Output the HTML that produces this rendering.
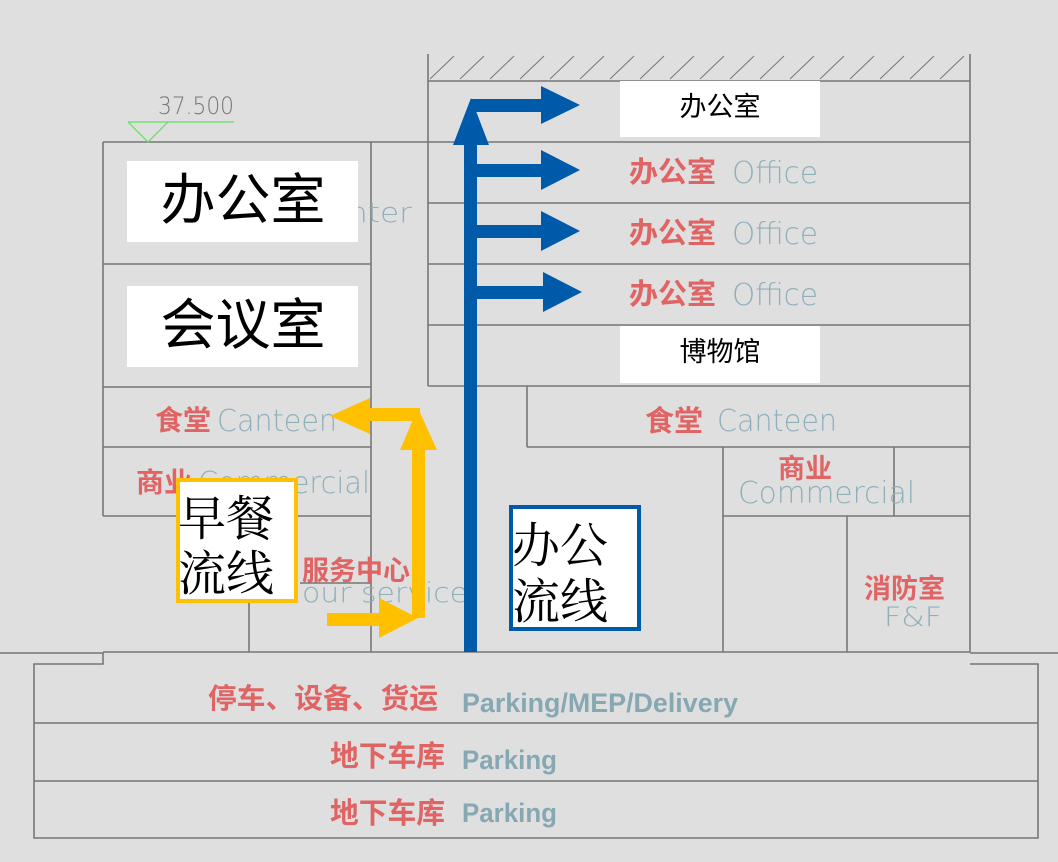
<!DOCTYPE html>
<html><head><meta charset="utf-8"><style>
html,body{margin:0;padding:0;background:#dfdfdf;}
svg{display:block;}
.r{fill:#e06464;font-family:"Liberation Sans","Noto Sans CJK SC",sans-serif;font-weight:bold;}
.g{fill:#8fb0bb;font-family:"DejaVu Sans","Liberation Sans",sans-serif;font-weight:200;}
.gb{fill:#86a8b3;font-family:"Liberation Sans",sans-serif;font-weight:bold;}
.k{fill:#000;font-family:"Liberation Sans","Noto Sans CJK SC",sans-serif;}
</style></head><body>
<svg width="1058" height="862" viewBox="0 0 1058 862" xmlns="http://www.w3.org/2000/svg">
<rect width="1058" height="862" fill="#dfdfdf"/>
<g stroke="#777" stroke-width="1.6" fill="none">
<line x1="428" y1="54" x2="428" y2="386"/>
<line x1="970" y1="54" x2="970" y2="652"/>
<line x1="428" y1="81" x2="970" y2="81"/>
<g stroke-width="1">
<line x1="430" y1="79" x2="454" y2="56"/><line x1="460" y1="79" x2="484" y2="56"/><line x1="490" y1="79" x2="514" y2="56"/><line x1="520" y1="79" x2="544" y2="56"/><line x1="550" y1="79" x2="574" y2="56"/><line x1="580" y1="79" x2="604" y2="56"/><line x1="610" y1="79" x2="634" y2="56"/><line x1="640" y1="79" x2="664" y2="56"/><line x1="670" y1="79" x2="694" y2="56"/><line x1="700" y1="79" x2="724" y2="56"/><line x1="730" y1="79" x2="754" y2="56"/><line x1="760" y1="79" x2="784" y2="56"/><line x1="790" y1="79" x2="814" y2="56"/><line x1="820" y1="79" x2="844" y2="56"/><line x1="850" y1="79" x2="874" y2="56"/><line x1="880" y1="79" x2="904" y2="56"/><line x1="910" y1="79" x2="934" y2="56"/><line x1="940" y1="79" x2="964" y2="56"/>
</g>
<line x1="428" y1="142" x2="970" y2="142"/>
<line x1="428" y1="203" x2="970" y2="203"/>
<line x1="428" y1="264" x2="970" y2="264"/>
<line x1="428" y1="325" x2="970" y2="325"/>
<line x1="428" y1="386" x2="970" y2="386"/>
<line x1="527" y1="386" x2="527" y2="447"/>
<line x1="527" y1="447" x2="970" y2="447"/>
<line x1="723" y1="447" x2="723" y2="652"/>
<line x1="894" y1="447" x2="894" y2="516"/>
<line x1="723" y1="516" x2="970" y2="516"/>
<line x1="847" y1="516" x2="847" y2="652"/>
<line x1="103" y1="142" x2="428" y2="142"/>
<line x1="103" y1="142" x2="103" y2="516"/>
<line x1="371" y1="142" x2="371" y2="652"/>
<line x1="103" y1="264" x2="371" y2="264"/>
<line x1="103" y1="387" x2="371" y2="387"/>
<line x1="103" y1="447" x2="371" y2="447"/>
<line x1="103" y1="516" x2="371" y2="516"/>
<line x1="300" y1="583" x2="371" y2="583"/>
<line x1="249" y1="583" x2="249" y2="652"/>
<polyline points="0,653 103,653 103,664 34,664 34,838 1038,838 1038,664 970,664"/>
<line x1="103" y1="652" x2="970" y2="652"/>
<line x1="970" y1="653" x2="1058" y2="653"/>
<line x1="34" y1="723" x2="1038" y2="723"/>
<line x1="34" y1="781" x2="1038" y2="781"/>
</g>
<text x="158" y="114" font-family="DejaVu Sans,sans-serif" font-weight="200" font-size="24" fill="#777" textLength="76" lengthAdjust="spacingAndGlyphs">37.500</text>
<line x1="128" y1="122" x2="234" y2="122" stroke="#66dd66" stroke-width="1.2"/>
<polyline points="128,122 148,142 168,122" fill="none" stroke="#66dd66" stroke-width="1.2"/>
<text x="348" y="222" class="g" font-size="28" textLength="64" lengthAdjust="spacingAndGlyphs">nter</text>
<text x="155" y="430" class="r" font-size="28">食堂</text><text x="217" y="431" class="g" font-size="30" textLength="120" lengthAdjust="spacingAndGlyphs">Canteen</text>
<text x="136" y="492" class="r" font-size="28">商业</text><text x="198" y="493" class="g" font-size="30" textLength="172" lengthAdjust="spacingAndGlyphs">Commercial</text>
<text x="302" y="580" class="r" font-size="27">服务中心</text>
<text x="302" y="602" class="g" font-size="28" textLength="166" lengthAdjust="spacingAndGlyphs">our  service</text>
<text x="629" y="182" class="r" font-size="29">办公室</text><text x="732" y="183" class="g" font-size="30" textLength="86" lengthAdjust="spacingAndGlyphs">Office</text>
<text x="629" y="243" class="r" font-size="29">办公室</text><text x="732" y="244" class="g" font-size="30" textLength="86" lengthAdjust="spacingAndGlyphs">Office</text>
<text x="629" y="304" class="r" font-size="29">办公室</text><text x="732" y="305" class="g" font-size="30" textLength="86" lengthAdjust="spacingAndGlyphs">Office</text>
<text x="645" y="431" class="r" font-size="29">食堂</text><text x="717" y="431" class="g" font-size="30" textLength="120" lengthAdjust="spacingAndGlyphs">Canteen</text>
<text x="778" y="478" class="r" font-size="27">商业</text>
<text x="738" y="503" class="g" font-size="30" textLength="177" lengthAdjust="spacingAndGlyphs">Commercial</text>
<text x="864" y="598" class="r" font-size="27">消防室</text>
<text x="884" y="626" class="g" font-size="27" textLength="58" lengthAdjust="spacingAndGlyphs">F&amp;F</text>
<text x="208" y="708" class="r" font-size="28" textLength="230" lengthAdjust="spacingAndGlyphs">停车、设备、货运</text><text x="462" y="712" class="gb" font-size="27" textLength="276" lengthAdjust="spacingAndGlyphs">Parking/MEP/Delivery</text>
<text x="330" y="766" class="r" font-size="29" textLength="115" lengthAdjust="spacingAndGlyphs">地下车库</text><text x="462" y="769" class="gb" font-size="27" textLength="95" lengthAdjust="spacingAndGlyphs">Parking</text>
<text x="330" y="823" class="r" font-size="29" textLength="115" lengthAdjust="spacingAndGlyphs">地下车库</text><text x="462" y="822" class="gb" font-size="27" textLength="95" lengthAdjust="spacingAndGlyphs">Parking</text>
<rect x="127" y="161" width="231" height="81" fill="#fff"/>
<text x="243" y="219" class="k" font-size="55" text-anchor="middle">办公室</text>
<rect x="127" y="286" width="231" height="81" fill="#fff"/>
<text x="243" y="344" class="k" font-size="55" text-anchor="middle">会议室</text>
<rect x="620" y="81" width="200" height="56" fill="#fff"/>
<text x="720" y="116" class="k" font-size="27" text-anchor="middle">办公室</text>
<rect x="620" y="326" width="200" height="57" fill="#fff"/>
<text x="720" y="361" class="k" font-size="27" text-anchor="middle">博物馆</text>
<g fill="#005aaa">
<rect x="464" y="140" width="13" height="512"/>
<polygon points="453,145 471,98 489,145"/>
<rect x="471" y="99" width="76" height="13"/>
<polygon points="541,86 580,105 541,124"/>
<rect x="477" y="164" width="70" height="13"/><polygon points="541,150 580,170 541,190"/>
<rect x="477" y="225" width="70" height="13"/><polygon points="541,211 580,231 541,251"/>
<rect x="477" y="286" width="70" height="13"/><polygon points="543,272 582,292 543,312"/>
</g>
<g fill="#ffc000">
<rect x="367" y="408" width="53" height="13"/>
<polygon points="330,416 370,398 370,434"/>
<rect x="412" y="448" width="13" height="170"/>
<polygon points="400,450 418,408 437,450"/>
<rect x="327" y="613" width="56" height="13"/>
<polygon points="379,598 418,618 379,638"/>
</g>
<rect x="178" y="480" width="118" height="121" fill="#fff" stroke="#ffc000" stroke-width="4"/>
<text x="178" y="535" class="k" font-size="48" style="font-family:'Noto Serif CJK SC',serif">早餐</text>
<text x="178" y="590" class="k" font-size="48" style="font-family:'Noto Serif CJK SC',serif">流线</text>
<rect x="511" y="507" width="128" height="122" fill="#fff" stroke="#005aaa" stroke-width="4"/>
<text x="512" y="562" class="k" font-size="48" style="font-family:'Noto Serif CJK SC',serif">办公</text>
<text x="512" y="618" class="k" font-size="48" style="font-family:'Noto Serif CJK SC',serif">流线</text>
</svg>
</body></html>
